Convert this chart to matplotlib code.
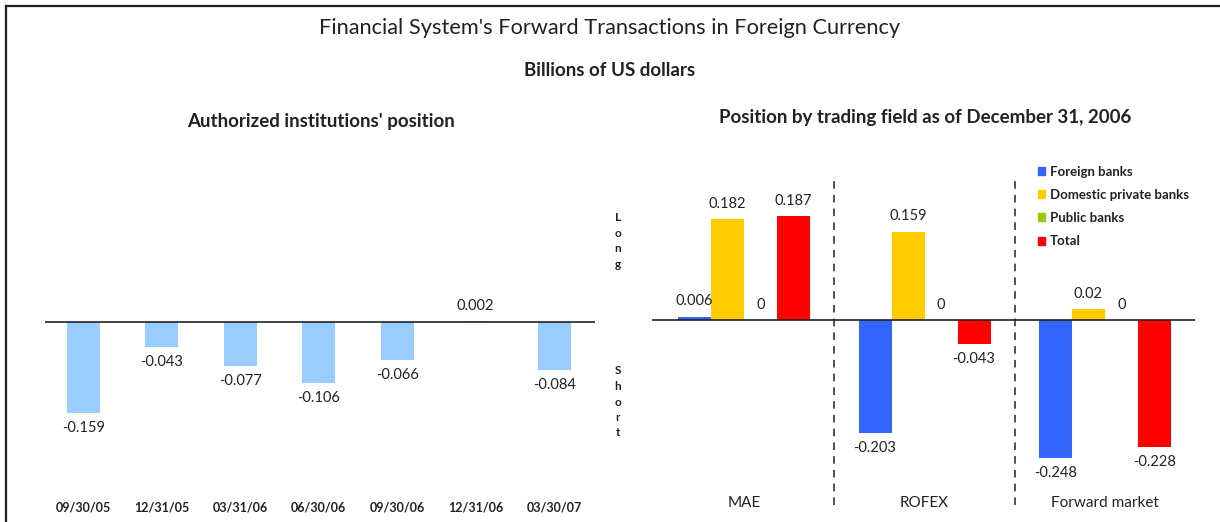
import matplotlib.pyplot as plt
from matplotlib.lines import Line2D
from matplotlib.patches import Patch
import numpy as np

plt.rcParams['font.family'] = ['Lato', 'DejaVu Sans']

# left panel data
fechas = ['09/30/05', '12/31/05', '03/31/06', '06/30/06', '09/30/06', '12/31/06', '03/30/07']
posicion = [-0.159, -0.043, -0.077, -0.106, -0.066, 0.002, -0.084]

# right panel data
mercados = ['MAE', 'ROFEX', 'Forward market']
series = ['Foreign banks', 'Domestic private banks', 'Public banks', 'Total']
bancos_ext = [0.006, -0.203, -0.248]
bancos_priv = [0.182, 0.159, 0.02]
bancos_pub = [0, 0, 0]
total = [0.187, -0.043, -0.228]
colores = ['#3366FF', '#FFCC00', '#99CC00', '#FF0000']

W, H = 1220, 522
fig = plt.figure(figsize=(W / 100, H / 100), dpi=100)


def px_axes(left, top, right, bottom):
    return fig.add_axes([left / W, 1 - bottom / H, (right - left) / W, (bottom - top) / H])


def etiqueta(ax, x, v, txt):
    off = 11 if v >= 0 else -11
    ax.annotate(txt, (x, v), xytext=(0, off), textcoords='offset points',
                ha='center', va='center', fontsize=10.5, color='#222222')


def limpiar(ax):
    for s in ax.spines.values():
        s.set_visible(False)
    ax.set_yticks([])
    ax.tick_params(axis='x', length=0)


# frame lines
fig.add_artist(Line2D([6 / W, 1], [1 - 6 / H, 1 - 6 / H], color='#222222', lw=1.6))
fig.add_artist(Line2D([6 / W, 6 / W], [0, 1 - 6 / H], color='#222222', lw=1.6))

fig.text(0.5, 1 - 28 / H, "Financial System's Forward Transactions in Foreign Currency",
         ha='center', va='center', fontsize=15.7, color='#222222')
fig.text(0.5, 1 - 70 / H, 'Billions of US dollars', ha='center', va='center',
         fontsize=13.5, fontweight='bold', color='#222222')
fig.text(321 / W, 1 - 122 / H, "Authorized institutions' position", ha='center', va='center',
         fontsize=13.5, fontweight='bold', color='#222222')
fig.text(925 / W, 1 - 118 / H, 'Position by trading field as of December 31, 2006',
         ha='center', va='center', fontsize=13.5, fontweight='bold', color='#222222')

# left chart
ax1 = px_axes(45, 150, 595, 470)
x1 = np.arange(len(fechas))
ax1.bar(x1, posicion, width=0.42, color='#99CCFF')
ax1.axhline(0, color='#222222', lw=1.2)
for xi, v in zip(x1, posicion):
    etiqueta(ax1, xi, v, f'{v:g}')
ax1.set_xlim(-0.485, -0.485 + 550 / 78.5)
ax1.set_ylim(-148 / 573, 172 / 573)
ax1.set_xticks(x1)
ax1.set_xticklabels(fechas, fontsize=9, fontweight='bold', color='#222222')
ax1.tick_params(axis='x', pad=23)
limpiar(ax1)

# right chart
ax2 = px_axes(652, 150, 1195, 470)
x2 = np.arange(len(mercados))
paso = 33 / 180.5
valores = [bancos_ext, bancos_priv, bancos_pub, total]
for k, (vals, col) in enumerate(zip(valores, colores)):
    pos = x2 + (k - 1.5) * paso
    ax2.bar(pos, vals, width=paso, color=col)
    for xi, v in zip(pos, vals):
        etiqueta(ax2, xi, v, f'{v:g}')
ax2.axhline(0, color='#222222', lw=1.2)
for sep in [0.5, 1.5]:
    ax2.axvline(sep, ymin=-0.11, ymax=0.92, color='#222222', lw=1.1,
                linestyle=(0, (5, 4)), clip_on=False)
ax2.set_xlim(-92 / 180.5, -92 / 180.5 + 543 / 180.5)
ax2.set_ylim(-150 / 555, 170 / 555)
ax2.set_xticks(x2)
ax2.set_xticklabels(mercados, fontsize=11, color='#222222')
ax2.tick_params(axis='x', pad=19)
limpiar(ax2)

handles = [Patch(color=c, label=s) for c, s in zip(colores, series)]
leg = fig.legend(handles=handles, loc='upper left', bbox_to_anchor=(1031 / W, 1 - 159 / H),
                 frameon=False, fontsize=9.5, handlelength=0.55, handleheight=0.55,
                 handletextpad=0.4, labelspacing=0.85, borderpad=0)
for t in leg.get_texts():
    t.set_fontweight('bold')
    t.set_color('#222222')

fig.text(618 / W, 1 - 241 / H, 'L\no\nn\ng', ha='center', va='center', fontsize=8.5,
         fontweight='bold', linespacing=1.5, color='#222222')
fig.text(618 / W, 1 - 402 / H, 'S\nh\no\nr\nt', ha='center', va='center', fontsize=8.5,
         fontweight='bold', linespacing=1.5, color='#222222')

fig.savefig('out.png', dpi=100)
